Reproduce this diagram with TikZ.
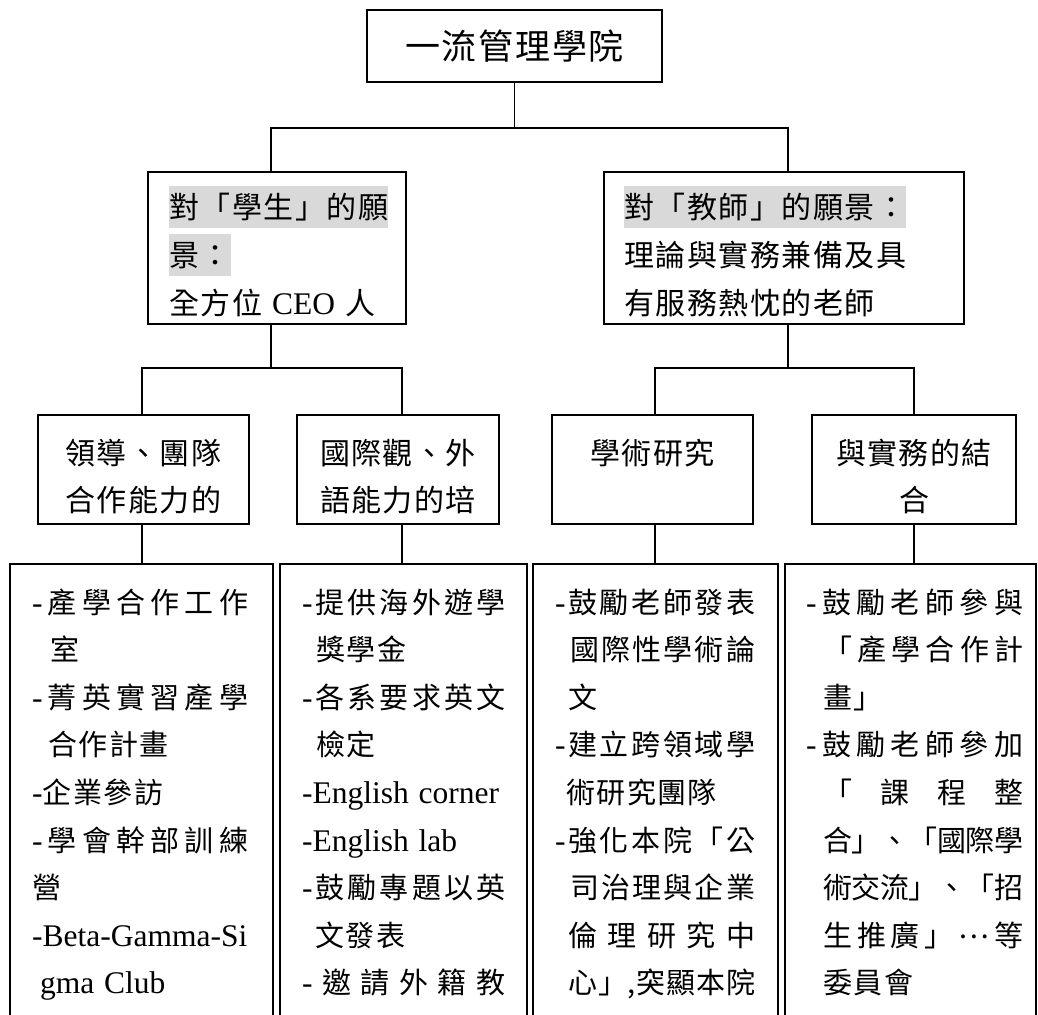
\documentclass[tikz,border=0pt]{standalone}
\usepackage{fontspec}
\setmainfont{Liberation Serif}
\newfontfamily\cjk[LetterSpace=5]{Noto Sans CJK TC}
\newfontfamily\latfam{Liberation Serif}
\usetikzlibrary{calc}
\definecolor{hlgray}{HTML}{D9D9D9}
\newcommand\lat[1]{{\latfam\fontsize{31.5}{47.6}\selectfont#1}}
\newcommand\dsh{\lat{-}}
\newcommand\hl[1]{{\setlength\fboxsep{0pt}\colorbox{hlgray}{\rule[-10pt]{0pt}{42pt}#1}}}
\newcommand\middots{\raisebox{8pt}{…}}
\newcommand\fillrow[2][0pt]{\leavevmode\hbox to\hsize{\hskip#1\relax\fillloop#2\fillend}}
\def\fillloop#1#2\fillend{#1\ifx\fillend#2\fillend\else\hskip0pt plus1fil minus4pt\fillloop#2\fillend\fi}

\begin{document}
\begin{tikzpicture}[x=1pt,y=-1pt,
		box/.style={draw,line width=1.8pt,inner sep=0pt},
		link/.style={line width=1.3pt},
		midtext/.style={font=\cjk\fontsize{30}{48}\selectfont,inner sep=0pt,align=left,anchor=base west},
		subtext/.style={font=\cjk\fontsize{30}{47}\selectfont,inner sep=0pt,align=center,anchor=base,text width=200},
		leaftext/.style={font=\cjk\fontsize{29}{47.6}\selectfont,inner sep=0pt,align=left,anchor=base west}]
			%%%%% START %%%%%
			
			\useasboundingbox (0,0) rectangle (1038,1014);
			\clip (0,0) rectangle (1038,1014);
			
			\node[box,minimum width=295,minimum height=72,font=\cjk\fontsize{35}{40}\selectfont] (root) at (514.5,46) {一流管理學院};
			
			\node[box,minimum width=258,minimum height=152] (stu) at (277,248) {};
			\node[box,minimum width=360,minimum height=152] (tea) at (784,248) {};
			
			\node[box,minimum width=211,minimum height=109] (lead) at (143.5,469.5) {};
			\node[box,minimum width=202,minimum height=109] (intl) at (398,469.5) {};
			\node[box,minimum width=201,minimum height=109] (acad) at (652.5,469.5) {};
			\node[box,minimum width=204,minimum height=109] (prac) at (914,469.5) {};
			
			\node[box,minimum width=263,minimum height=476] (act1) at (141.5,802) {};
			\node[box,minimum width=247,minimum height=476] (act2) at (403.5,802) {};
			\node[box,minimum width=245,minimum height=476] (act3) at (655.5,802) {};
			\node[box,minimum width=251,minimum height=476] (act4) at (910.5,802) {};
			
			\draw[link] (root.south) -- (root.south |- 0,128) coordinate (rootfork);
			\draw[link] ([xshift=-6]stu.north) |- (rootfork) -| ([xshift=4]tea.north);
			
			\draw[link] ([xshift=-6]stu.south) -- ([xshift=-6]stu.south |- 0,368) coordinate (stufork);
			\draw[link] ([xshift=-1.5]lead.north) |- (stufork) -| ([xshift=4]intl.north);
			\draw[link] ([xshift=4]tea.south) -- ([xshift=4]tea.south |- 0,368) coordinate (teafork);
			\draw[link] ([xshift=2.5]acad.north) |- (teafork) -| (prac.north);
			
			\draw[link] ([xshift=-1.5]lead.south) -- ([xshift=-1.5]lead.south |- act1.north);
			\draw[link] ([xshift=4]intl.south) -- ([xshift=4]intl.south |- act2.north);
			\draw[link] ([xshift=2.5]acad.south) -- ([xshift=2.5]acad.south |- act3.north);
			\draw[link] (prac.south) -- (prac.south |- act4.north);
			
			\node[midtext,text width=235] (stutext) at (169,218) {\hl{對「學生」的願}\\\hl{景：}\\全方位\lat{ CEO }人};
			\node[midtext,text width=340] (teatext) at (624,218) {\hl{對「教師」的願景：}\\理論與實務兼備及具\\有服務熱忱的老師};
			
			\node[subtext] (leadtext) at (143.5,464) {領導、團隊\\合作能力的};
			\node[subtext] (intltext) at (398,464) {國際觀、外\\語能力的培};
			\node[subtext] (acadtext) at (652.5,464) {學術研究};
			\node[subtext] (practext) at (914,464) {與實務的結\\合};
			
			\node[leaftext,text width=216] (act1text) at (32,613) {\fillrow{\dsh 產學合作工作}\\
				\hspace*{18pt}室\\
				\fillrow{\dsh 菁英實習產學}\\
				\hspace*{16pt}合作計畫\\
				\dsh 企業參訪\\
				\fillrow{\dsh 學會幹部訓練}\\
				營\\
				\lat{-Beta-Gamma-Si}\\
				\hspace*{8pt}\lat{gma Club}};
			\node[leaftext,text width=203] (act2text) at (302,613) {\fillrow{\dsh 提供海外遊學}\\
				\hspace*{14pt}獎學金\\
				\fillrow{\dsh 各系要求英文}\\
				\hspace*{14pt}檢定\\
				\lat{-English corner}\\
				\lat{-English lab}\\
				\fillrow{\dsh 鼓勵專題以英}\\
				\hspace*{13pt}文發表\\
				\fillrow{\dsh 邀請外籍教}};
			\node[leaftext,text width=200] (act3text) at (555,613) {\fillrow{\dsh 鼓勵老師發表}\\
				\fillrow[15pt]{國際性學術論}\\
				\hspace*{13pt}文\\
				\fillrow{\dsh 建立跨領域學}\\
				\hspace*{11pt}術研究團隊\\
				\fillrow{\dsh 強化本院「公}\\
				\fillrow[15pt]{司治理與企業}\\
				\fillrow[13pt]{倫理研究中}\\
				\fillrow[13pt]{心」,突顯本院}};
			\node[leaftext,text width=217] (act4text) at (806,613) {\fillrow{\dsh 鼓勵老師參與}\\
				\fillrow[17pt]{「產學合作計}\\
				\hspace*{17pt}畫」\\
				\fillrow{\dsh 鼓勵老師參加}\\
				\fillrow[17pt]{「課程整}\\
				\fillrow[17pt]{合」、「國際學}\\
				\fillrow[17pt]{術交流」、「招}\\
				\fillrow[17pt]{生推廣」\middots 等}\\
				\hspace*{17pt}委員會};
			
			%%%%% END %%%%%
\end{tikzpicture}
\end{document}
